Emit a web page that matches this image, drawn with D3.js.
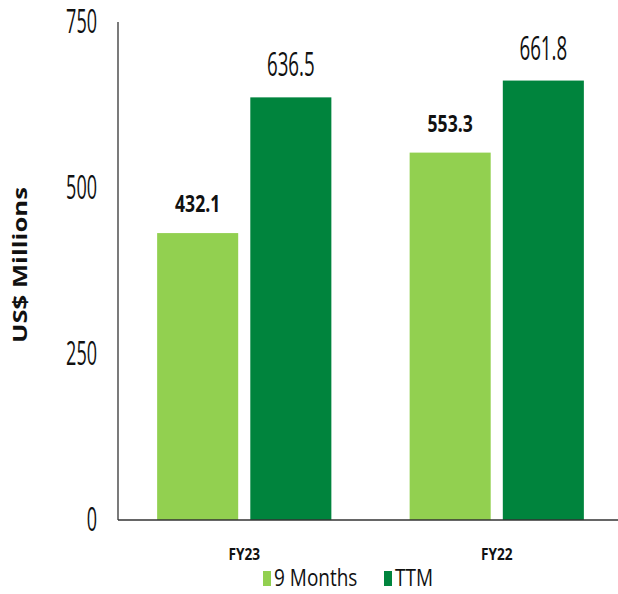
<!DOCTYPE html>
<html lang="en">
<head>
<meta charset="UTF-8">
<title>US$ Millions - 9 Months vs TTM</title>
<script src="https://d3js.org/d3.v7.min.js"></script>
<style>
    body { margin: 0; background: #fff; }
    svg { display: block; font-family: 'Open Sans', 'DejaVu Sans', sans-serif; }
</style>
</head>
<body>
<svg id="chart" width="618" height="594"></svg>
<script>
    const categories = ["FY23", "FY22"];
    const seriesNames = ["9 Months", "TTM"];
    const nineMonths = [432.1, 553.3];
    const ttm = [636.5, 661.8];
    const yTicks = [0, 250, 500, 750];
    const colors = ["#92D050", "#00843D"];

    const svg = d3.select("#chart");

    const x0 = d3.scaleBand().domain(categories).range([118, 623]).paddingInner(0.31).paddingOuter(0.155);
    const x1 = d3.scaleBand().domain(seriesNames).range([0, x0.bandwidth()]).paddingInner(0.13);
    const y = d3.scaleLinear().domain([0, 750]).range([520, 22]);

    const rows = categories.map((c, i) => ({ cat: c, values: [nineMonths[i], ttm[i]] }));

    // the reference type is tall and narrow, so text gets stretched
    function stretchedText(parent, tx, ty, str, o) {
        const g = parent.append("g").attr("transform", `translate(${tx},${ty})`);
        g.append("text")
            .attr("transform", `scale(${o.sx},${o.sy})`)
            .attr("text-anchor", o.anchor || "middle")
            .attr("dy", o.dy || 0)
            .style("font-size", o.size + "px")
            .style("font-weight", o.weight || "normal")
            .style("fill", "#111")
            .text(str);
        return g;
    }

    const labelStyle = [
        { size: 22, weight: "bold", sx: 0.8, sy: 1.06 },
        { size: 24, weight: "normal", sx: 0.78, sy: 1.34 }
    ];

    // bars
    const groups = svg.selectAll(".grp").data(rows).enter().append("g")
        .attr("class", "grp")
        .attr("transform", d => `translate(${x0(d.cat)},0)`);

    groups.each(function (d) {
        const g = d3.select(this);
        d.values.forEach((v, j) => {
            g.append("rect")
                .attr("x", x1(seriesNames[j]))
                .attr("y", y(v))
                .attr("width", x1.bandwidth())
                .attr("height", y(0) - y(v))
                .attr("fill", colors[j]);
            stretchedText(g, x1(seriesNames[j]) + x1.bandwidth() / 2, y(v) - 21, v.toFixed(1), labelStyle[j]);
        });
    });

    // y axis
    svg.append("line").attr("x1", 118).attr("x2", 118).attr("y1", y(750)).attr("y2", y(0))
        .attr("stroke", "#333").attr("stroke-width", 1.3);
    yTicks.forEach(t => {
        stretchedText(svg, 97, y(t), t, { size: 22, sx: 0.82, sy: 1.46, anchor: "end", dy: "0.35em" });
    });

    // x axis
    svg.append("line").attr("x1", 118).attr("x2", 620).attr("y1", y(0)).attr("y2", y(0))
        .attr("stroke", "#333").attr("stroke-width", 1.3);
    categories.forEach(c => {
        stretchedText(svg, x0(c) + x0.bandwidth() / 2, 560, c, { size: 15.5, weight: "bold", sx: 0.88, sy: 1.02 });
    });

    // y title
    const yt = svg.append("g").attr("transform", "translate(27,265) rotate(-90) scale(1.35,1)");
    yt.append("text")
        .attr("text-anchor", "middle")
        .style("font-size", "19px")
        .style("font-weight", "bold")
        .style("fill", "#111")
        .text("US$ Millions");

    // legend
    const legendX = [263, 384];
    seriesNames.forEach((s, j) => {
        svg.append("rect").attr("x", legendX[j]).attr("y", 571).attr("width", 8).attr("height", 15)
            .attr("fill", colors[j]);
        stretchedText(svg, legendX[j] + 11, 586, s, { size: 19, sx: 1.0, sy: 1.22, anchor: "start" });
    });
</script>
</body>
</html>
